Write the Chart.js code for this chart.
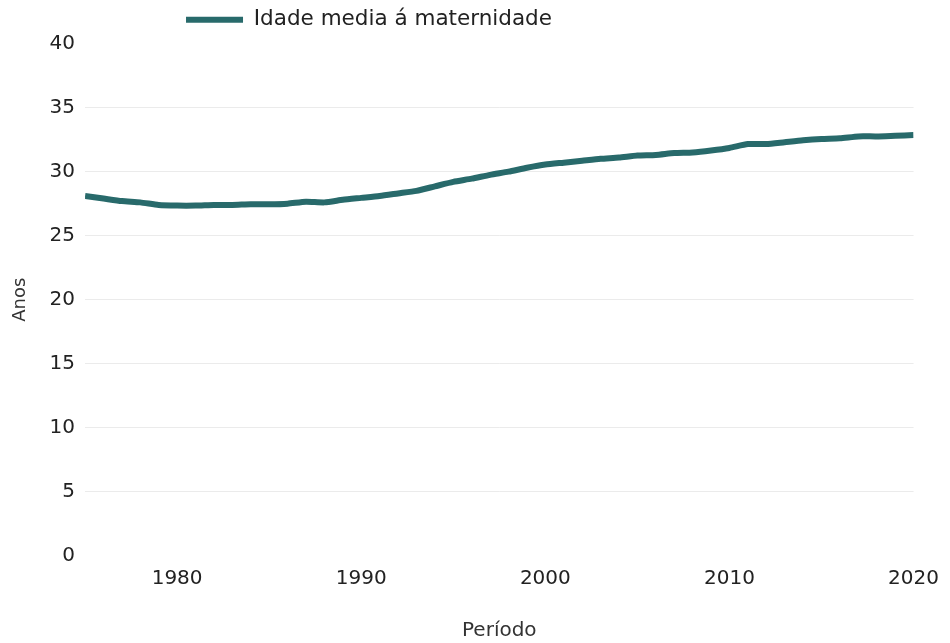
<!DOCTYPE html>
<html>
<head>
<meta charset="utf-8">
<script src="https://cdn.jsdelivr.net/npm/chart.js@4/dist/chart.umd.min.js"></script>
<style>
  body { margin: 0; background: #fff; }
  #wrap { width: 950px; height: 643px; }
</style>
</head>
<body>
<div id="wrap"><canvas id="chart"></canvas></div>
<script>
const years = [
  1975, 1976, 1977, 1978, 1979, 1980, 1981, 1982, 1983, 1984,
  1985, 1986, 1987, 1988, 1989, 1990, 1991, 1992, 1993, 1994,
  1995, 1996, 1997, 1998, 1999, 2000, 2001, 2002, 2003, 2004,
  2005, 2006, 2007, 2008, 2009, 2010, 2011, 2012, 2013, 2014,
  2015, 2016, 2017, 2018, 2019, 2020
];
const idadeMedia = [
  28.1, 27.9, 27.7, 27.6, 27.4, 27.35, 27.35, 27.4, 27.4, 27.45,
  27.45, 27.5, 27.65, 27.6, 27.8, 27.95, 28.1, 28.3, 28.5, 28.85,
  29.2, 29.45, 29.75, 30.0, 30.3, 30.55, 30.7, 30.85, 31.0, 31.1,
  31.25, 31.3, 31.45, 31.5, 31.65, 31.85, 32.15, 32.15, 32.3, 32.45,
  32.55, 32.6, 32.75, 32.75, 32.8, 32.85
];
const xTicks = [1980, 1990, 2000, 2010, 2020];
const seriesLabel = 'Idade media á maternidade';

const teal = '#286a6b';
const font = "'DejaVu Sans', sans-serif";

// move the legend left of centre and a bit up, like the original
const legendShift = {
  id: 'legendShift',
  afterLayout(chart) {
    const l = chart.legend;
    l.left -= 100;
    l.right -= 100;
    l.top -= 3;
    l.bottom -= 3;
  }
};

new Chart(document.getElementById('chart'), {
  type: 'line',
  data: {
    datasets: [{
      label: seriesLabel,
      data: years.map((y, i) => ({ x: y, y: idadeMedia[i] })),
      borderColor: teal,
      backgroundColor: teal,
      borderWidth: 6,
      pointRadius: 0,
      tension: 0.2
    }]
  },
  options: {
    responsive: true,
    maintainAspectRatio: false,
    animation: false,
    layout: { padding: { left: 10, right: 22, top: 2, bottom: 0 } },
    plugins: {
      tooltip: { enabled: false },
      legend: {
        labels: {
          usePointStyle: true,
          pointStyle: 'line',
          pointStyleWidth: 57,
          color: '#222',
          font: { family: font, size: 21.5 },
          padding: 10
        }
      }
    },
    scales: {
      x: {
        type: 'linear',
        min: 1975,
        max: 2020,
        afterBuildTicks: s => { s.ticks = xTicks.map(v => ({ value: v })); },
        grid: { display: false, drawTicks: false },
        border: { display: false },
        ticks: {
          color: '#222', font: { family: font, size: 20 }, padding: 11, maxRotation: 0,
          callback: v => String(v)
        },
        title: { display: true, text: 'Período', color: '#333', font: { family: font, size: 20 }, padding: { top: 17, bottom: 0 } }
      },
      y: {
        min: 0,
        max: 40,
        ticks: { stepSize: 5, color: '#222', font: { family: font, size: 20 }, padding: 10 },
        grid: {
          drawTicks: false,
          color: c => (c.tick.value === 0 || c.tick.value === 40) ? 'rgba(0,0,0,0)' : '#ebebeb'
        },
        border: { display: false },
        title: { display: true, text: 'Anos', color: '#333', font: { family: font, size: 18 }, padding: { top: 0, bottom: 8 } }
      }
    }
  },
  plugins: [legendShift]
});
</script>
</body>
</html>
